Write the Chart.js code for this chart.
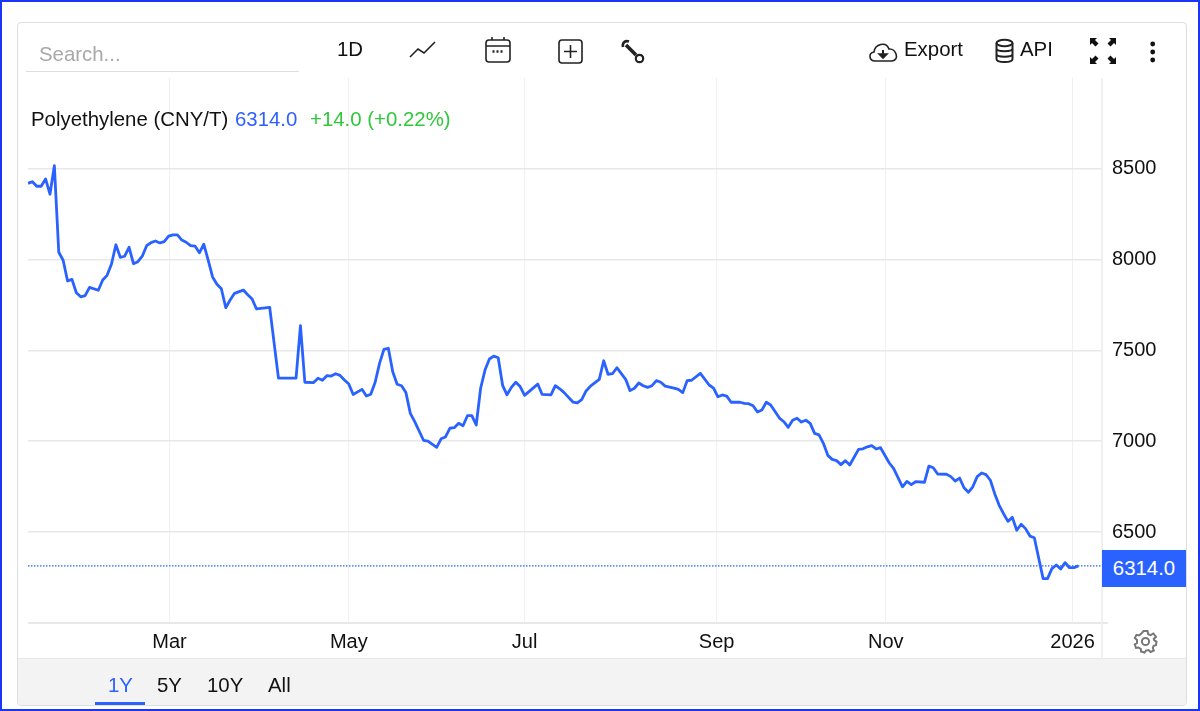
<!DOCTYPE html>
<html>
<head>
<meta charset="utf-8">
<script src="https://cdn.jsdelivr.net/npm/chart.js@4"></script>
<style>
    * { box-sizing: border-box; }
    html, body { margin: 0; padding: 0; background: #fff; }
    body { width: 1200px; height: 711px; position: relative; overflow: hidden; font-family: "Liberation Sans", Arial, sans-serif; color: #111; }
    .frame { position: absolute; left: 0; top: 0; width: 1200px; height: 711px; border: 2px solid #1a35f5; pointer-events: none; z-index: 5; }
    .card { position: absolute; left: 17px; top: 22px; width: 1170px; height: 684px; border: 1px solid #dedede; border-radius: 4px; }
    .footer { position: absolute; left: 18px; top: 658px; width: 1168px; height: 47px; background: #f3f3f3; border-top: 1px solid #e8e8e8; border-radius: 0 0 4px 4px; }
    canvas { position: absolute; left: 0; top: 0; }
    .t { position: absolute; font-size: 20.4px; line-height: 24px; white-space: nowrap; }
    .search-line { position: absolute; left: 26px; top: 71px; width: 273px; height: 1px; background: #dedede; }
    .axis-v { position: absolute; left: 1101px; top: 78px; width: 2px; height: 580px; background: #f0f0f0; }
    .axis-h { position: absolute; left: 1102px; top: 622px; width: 6px; height: 2px; background: #e8e8e8; }
    .price-box { position: absolute; left: 1102px; top: 550px; width: 84px; height: 37px; background: #2962ff; color: #fff; font-size: 20.4px; line-height: 37px; text-align: center; }
    .range-line { position: absolute; left: 95px; top: 702px; width: 50px; height: 3px; background: #2962ff; }
    svg { position: absolute; overflow: visible; fill: none; stroke: #222; stroke-width: 1.6; }
</style>
</head>
<body>
<div class="card"></div>
<div class="footer"></div>
<canvas id="priceChart" width="1200" height="711"></canvas>
<div class="axis-v"></div>
<div class="axis-h"></div>

<div class="t" style="left:39px;top:42px;color:#a8a8a8">Search...</div>
<div class="search-line"></div>
<div class="t" style="left:337px;top:37px">1D</div>
<svg style="left:409px;top:41px" width="28" height="17"><path d="M1 16 L9 8 L15 12 L26 1"/></svg>
<svg style="left:485px;top:36px" width="26" height="27"><rect x="1" y="4" width="24" height="22" rx="3"/><path d="M1 10 H25 M7 1 V4 M19 1 V4"/><path d="M7.5 15.5 H10.5 M11.5 15.5 H14.5 M15.5 15.5 H18.5" stroke-width="2.4" stroke-dasharray="2 1"/></svg>
<svg style="left:558px;top:39px" width="25" height="25"><rect x="1" y="1" width="23" height="23" rx="3"/><path d="M12.5 6 V19 M6 12.5 H19"/></svg>
<svg style="left:621px;top:40px" width="24" height="24"><path d="M5 5 L15 15" stroke-width="3.6"/><path d="M8 1.5 C4 0 1 3 2 7" stroke-width="2.6"/><circle cx="18.5" cy="18.5" r="3.7" stroke-width="2.2"/></svg>
<svg style="left:868px;top:41px" width="31" height="22"><path d="M7 20 C1 20 0 12 6 11 C7 3 18 0 21 8 C28 7 32 19 24 20 Z"/><path d="M15 9 V15" stroke-width="2"/><path d="M11 13 L15 17 L19 13 Z" fill="#222"/></svg>
<div class="t" style="left:904px;top:37px">Export</div>
<svg style="left:995px;top:39px;stroke-width:2" width="19" height="24"><ellipse cx="9.5" cy="4" rx="8" ry="3.2"/><path d="M1.5 4 V20 C1.5 24 17.5 24 17.5 20 V4 M1.5 9.5 C1.5 13 17.5 13 17.5 9.5 M1.5 15 C1.5 18.5 17.5 18.5 17.5 15"/></svg>
<div class="t" style="left:1020px;top:37px">API</div>
<svg style="left:1090px;top:38px;stroke:none;fill:#111" width="26" height="26"><path d="M0 0 H7 L5 2 L8.5 5.5 L5.5 8.5 L2 5 L0 7 Z"/><path d="M26 0 H19 L21 2 L17.5 5.5 L20.5 8.5 L24 5 L26 7 Z"/><path d="M0 26 H7 L5 24 L8.5 20.5 L5.5 17.5 L2 21 L0 19 Z"/><path d="M26 26 H19 L21 24 L17.5 20.5 L20.5 17.5 L24 21 L26 19 Z"/></svg>
<svg style="left:1150px;top:41px" width="6" height="20"><circle cx="2.7" cy="3" r="2.4" fill="#111" stroke="none"/><circle cx="2.7" cy="11" r="2.4" fill="#111" stroke="none"/><circle cx="2.7" cy="19" r="2.4" fill="#111" stroke="none"/></svg>

<div class="t" style="left:31px;top:107px">Polyethylene (CNY/T)</div>
<div class="t" style="left:235px;top:107px;color:#2f5fff">6314.0</div>
<div class="t" style="left:310px;top:107px;color:#2fc83a">+14.0 (+0.22%)</div>

<div class="price-box">6314.0</div>

<svg style="left:1134px;top:630px;stroke:#777;stroke-width:2" width="23" height="23"><circle cx="11.5" cy="11.5" r="3.6"/><path d="M9.5 1 H13.5 L14.2 4.2 L16.6 5.2 L19.4 3.5 L22 6.8 L19.8 9 L20.3 10.5 L22.5 11.5 L22 15.2 L19.6 15.8 L18.8 18 L19.8 20.5 L16.6 22 L14.6 20 L12 20.6 L10.5 22.5 L7 21.5 L6.9 19 L4.6 17.6 L2 18 L0.8 14.5 L3 13 L3 10 L0.8 8 L2.5 4.8 L5 5.4 L7.2 3.8 Z"/></svg>

<div class="t" style="left:108px;top:673px;color:#2962ff">1Y</div>
<div class="t" style="left:157px;top:673px">5Y</div>
<div class="t" style="left:207px;top:673px">10Y</div>
<div class="t" style="left:268px;top:673px">All</div>
<div class="range-line"></div>
<div class="frame"></div>

<script>
    const sessions = [
        0, 1, 2, 3, 4, 5, 6, 7, 8, 9, 10, 11, 12, 13, 14, 16, 17, 18, 19, 20,
        21, 22, 23, 24, 25, 26, 27, 28, 29, 30, 31, 32, 33, 34, 35, 36, 37, 38, 39, 40,
        41, 42, 43, 44, 45, 46, 47, 49, 50, 51, 52, 55, 57, 61, 62, 63, 65, 66, 67, 68,
        69, 70, 71, 72, 73, 74, 76, 77, 78, 79, 80, 81, 82, 83, 84, 85, 86, 87, 88, 90,
        91, 93, 94, 95, 96, 97, 98, 99, 100, 101, 102, 103, 104, 105, 106, 107, 108, 109, 110, 111,
        112, 113, 116, 117, 119, 120, 121, 122, 124, 125, 126, 127, 128, 130, 131, 132, 133, 134, 136, 137,
        138, 139, 140, 141, 142, 143, 144, 145, 147, 148, 149, 150, 151, 153, 155, 156, 157, 158, 159, 160,
        162, 163, 164, 165, 166, 167, 168, 169, 171, 172, 173, 174, 175, 176, 177, 178, 179, 180, 181, 182,
        183, 184, 185, 186, 187, 189, 190, 191, 192, 193, 194, 196, 197, 199, 200, 201, 202, 204, 205, 206,
        207, 209, 210, 211, 212, 213, 214, 215, 216, 217, 218, 219, 220, 221, 222, 223, 224, 225, 226, 227,
        228, 229, 231, 232, 233, 234, 235, 236, 237, 238, 239
    ];
    const prices = [
        8418, 8427, 8402, 8402, 8442, 8358, 8515, 8039, 7995, 7881, 7890, 7816, 7794, 7800, 7846, 7830, 7886, 7912, 7974, 8080,
        8011, 8017, 8066, 7976, 7987, 8017, 8075, 8092, 8101, 8090, 8097, 8128, 8135, 8135, 8106, 8094, 8075, 8073, 8036, 8083,
        7996, 7903, 7863, 7838, 7734, 7776, 7813, 7831, 7805, 7782, 7727, 7736, 7347, 7347, 7635, 7324, 7322, 7346, 7335, 7360,
        7358, 7371, 7362, 7336, 7314, 7257, 7285, 7248, 7258, 7324, 7428, 7505, 7511, 7382, 7313, 7305, 7267, 7153, 7107, 7005,
        7000, 6966, 7013, 7023, 7071, 7074, 7098, 7085, 7140, 7140, 7089, 7291, 7391, 7452, 7468, 7459, 7307, 7255, 7296, 7324,
        7300, 7252, 7314, 7257, 7255, 7305, 7288, 7267, 7215, 7210, 7228, 7276, 7303, 7340, 7442, 7368, 7371, 7404, 7340, 7278,
        7291, 7320, 7305, 7296, 7305, 7333, 7324, 7303, 7292, 7285, 7267, 7333, 7335, 7373, 7309, 7292, 7244, 7254, 7248, 7214,
        7214, 7208, 7206, 7195, 7160, 7171, 7214, 7199, 7127, 7107, 7076, 7115, 7126, 7105, 7115, 7098, 7043, 7035, 6988, 6922,
        6900, 6893, 6871, 6893, 6869, 6955, 6958, 6969, 6975, 6957, 6964, 6880, 6849, 6749, 6779, 6761, 6777, 6774, 6863, 6854,
        6819, 6818, 6805, 6781, 6797, 6744, 6719, 6749, 6805, 6825, 6816, 6785, 6710, 6647, 6601, 6559, 6581, 6510, 6543, 6519,
        6478, 6469, 6244, 6244, 6299, 6319, 6297, 6332, 6304, 6304, 6314
    ];
    const lastPrice = 6314;
    const tickSessions = [32.2, 73, 113, 156.7, 195.2, 237.7];
    const tickLabels = ['Mar', 'May', 'Jul', 'Sep', 'Nov', '2026'];
    const lastSession = 244.4;

    const priceLine = sessions.map((s, i) => ({ x: s, y: prices[i] }));
    const lastPriceLine = [{ x: 0, y: lastPrice }, { x: lastSession, y: lastPrice }];

    new Chart(document.getElementById('priceChart').getContext('2d'), {
        type: 'line',
        data: {
            datasets: [{
                data: lastPriceLine,
                borderColor: '#2962ff',
                borderWidth: 1.3,
                borderDash: [1.5, 1.5],
                pointRadius: 0,
                order: 2
            }, {
                data: priceLine,
                borderColor: '#2962ff',
                borderWidth: 2.8,
                borderJoinStyle: 'round',
                pointRadius: 0,
                tension: 0,
                order: 1
            }]
        },
        options: {
            responsive: false,
            animation: false,
            layout: { padding: { left: 28, top: 77.5, right: 0, bottom: 0 } },
            plugins: { legend: { display: false }, tooltip: { enabled: false } },
            scales: {
                x: {
                    type: 'linear',
                    min: 0,
                    max: lastSession,
                    afterBuildTicks: axis => { axis.ticks = tickSessions.map(v => ({ value: v })); },
                    afterFit: axis => { axis.height = 88; },
                    border: { display: false },
                    grid: { color: '#eef2f6', lineWidth: 1, drawTicks: false },
                    ticks: {
                        autoSkip: false,
                        maxRotation: 0,
                        padding: 7,
                        color: '#111',
                        font: { family: '"Liberation Sans"', size: 20 },
                        callback: value => tickLabels[tickSessions.indexOf(value)]
                    }
                },
                y: {
                    position: 'right',
                    min: 6000,
                    max: 9000,
                    afterBuildTicks: axis => { axis.ticks = [6000, 6500, 7000, 7500, 8000, 8500, 9000].map(v => ({ value: v })); },
                    afterFit: axis => { axis.width = 98; },
                    border: { display: false },
                    grid: {
                        color: ctx => ctx.tick.value === 9000 ? 'rgba(0,0,0,0)' : '#e8e8e8',
                        lineWidth: ctx => ctx.tick.value === 6000 ? 2 : 1.5,
                        drawTicks: false
                    },
                    ticks: {
                        padding: 10,
                        color: '#111',
                        font: { family: '"Liberation Sans"', size: 20 },
                        callback: value => (value === 9000 || value === 6000) ? '' : String(value)
                    }
                }
            }
        }
    });
</script>
</body>
</html>
